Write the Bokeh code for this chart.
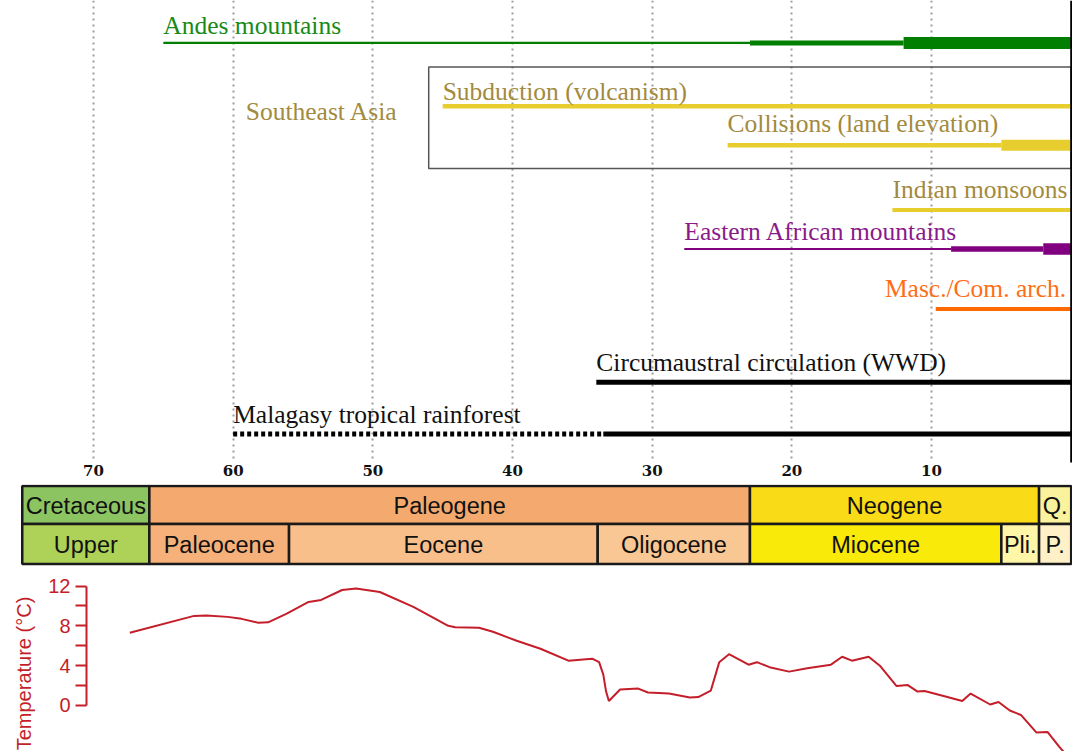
from bokeh.plotting import figure
from bokeh.layouts import column
from bokeh.models import Range1d, FixedTicker, ColumnDataSource, LinearAxis
from bokeh.core.properties import value
from bokeh.embed import file_html
from bokeh.resources import INLINE

# ---------------- data (ages in Ma) ----------------
age_ticks = [70, 60, 50, 40, 30, 20, 10]

andes_ma = [65, 23, 12, 0]            # weak -> moderate -> strong uplift
southeast_asia_ma = [46, 0]
subduction_ma = [45, 0]
collision_ma = [24.6, 5, 0]
monsoon_ma = [12.8, 0]
east_africa_ma = [27.7, 8.6, 2, 0]
masc_com_ma = [9.7, 0]
circumaustral_ma = [34, 0]
rainforest_uncertain_ma = [60, 33.5]
rainforest_ma = [33.5, 0]

period_names = ["Cretaceous", "Paleogene", "Neogene", "Q."]
period_bounds_ma = [75.1, 66, 23, 2.3, 0]
epoch_names = ["Upper", "Paleocene", "Eocene", "Oligocene", "Miocene", "Pli.", "P."]
epoch_bounds_ma = [75.1, 66, 56, 33.9, 23, 5.0, 2.3, 0]

temp_age_ma = [67.4, 62.8, 61.9, 60.4, 59.4, 58.2, 57.5, 56.2, 54.6,
               53.7, 52.2, 51.2, 49.5, 47.1, 44.6, 44.1, 42.4, 41.4, 39.7,
               38.0, 36.0, 34.3, 33.8, 33.5, 33.3, 33.1, 32.3, 31.0, 30.3,
               28.8, 27.3, 26.7, 25.8, 25.6, 25.2, 24.5, 23.9, 23.1, 22.5,
               21.6, 20.2, 18.9, 17.2, 16.4, 15.7, 14.5, 13.7, 12.5, 11.7,
               11.0, 10.5, 9.0, 7.8, 7.2, 5.8, 5.2, 4.4, 3.6, 2.5,
               1.7, 0.85, 0.2]
temp_c = [7.3, 9.0, 9.05, 8.9, 8.7, 8.3, 8.35, 9.2, 10.4,
          10.6, 11.6, 11.75, 11.4, 9.9, 8.0, 7.85, 7.8, 7.4, 6.5,
          5.7, 4.5, 4.7, 4.35, 3.1, 1.4, 0.45, 1.6, 1.7, 1.3,
          1.2, 0.8, 0.85, 1.5, 2.45, 4.35, 5.15, 4.7, 4.1, 4.35,
          3.85, 3.4, 3.75, 4.1, 4.9, 4.5, 4.9, 4.0, 1.95, 2.05,
          1.4, 1.45, 0.9, 0.45, 1.2, 0.1, 0.35, -0.5, -0.95, -2.7,
          -2.65, -4.15, -5.2]
temp_major_ticks = [0, 4, 8, 12]
temp_minor_ticks = [2, 6, 10]

# ---------------- layout / style ----------------
PAGE_W = 1072
PX70 = 93.0          # x of 70 Ma
PX0 = 1070.7         # x of 0 Ma
SCALE = (PX0 - PX70) / 70.0
X_RANGE = Range1d(start=70 + PX70 / SCALE, end=-(PAGE_W - PX0) / SCALE)
TEMP_AXIS_MA = 70 + (PX70 - 86) / SCALE

SERIF = value("Liberation Serif")
SANS = value("Liberation Sans")
RED = "#C41E2A"
GOLD_TEXT = "#A28A3E"
YELLOW = "#E8CD2E"
GREEN = "#007F00"
PURPLE = "#800080"
ORANGE = "#FF6A00"

# event rows: (phase bounds, line y, widths per phase, line colour)
rows = [
    (andes_ma, 42.4, [2.4, 5, 12], GREEN),
    (subduction_ma, 105.8, [4.5], YELLOW),
    (collision_ma, 144.7, [4.5, 11], YELLOW),
    (monsoon_ma, 209.5, [4], YELLOW),
    (east_africa_ma, 248.5, [2, 5.5, 11.5], PURPLE),
    (masc_com_ma, 308.5, [3.8], ORANGE),
    (circumaustral_ma, 381.7, [5], "black"),
    (rainforest_ma, 433.6, [5], "black"),
]

seg = dict(x0=[], x1=[], y=[], w=[], c=[])
for bounds, y, widths, col in rows:
    for i in range(len(bounds) - 1):
        seg["x0"].append(bounds[i])
        seg["x1"].append(bounds[i + 1])
        seg["y"].append(y)
        seg["w"].append(widths[i])
        seg["c"].append(col)

labels = dict(
    text=["Andes mountains", "Southeast Asia", "Subduction (volcanism)",
          "Collisions (land elevation)", "Indian monsoons",
          "Eastern African mountains", "Circumaustral circulation (WWD)",
          "Malagasy tropical rainforest"],
    x=[andes_ma[0], 59.1, subduction_ma[0], collision_ma[0], monsoon_ma[0],
       east_africa_ma[0], circumaustral_ma[0], rainforest_uncertain_ma[0]],
    y=[25.0, 111.3, 91.0, 123.0, 188.5, 230.5, 361.5, 414.3],
    c=["#178A17", GOLD_TEXT, GOLD_TEXT, GOLD_TEXT, GOLD_TEXT, "#8A1A8A",
       "#111111", "#111111"],
)

# ---------------- figure A: events timeline ----------------
pA = figure(width=PAGE_W, height=484, x_range=X_RANGE,
            y_range=Range1d(462, 0), output_backend="svg",
            toolbar_location=None, y_axis_location=None,
            min_border_left=0, min_border_right=0, min_border_top=0,
            min_border_bottom=22)
pA.outline_line_color = None
pA.ygrid.visible = False
pA.xgrid.ticker = FixedTicker(ticks=age_ticks)
pA.xgrid.grid_line_color = "#9c9c9c"
pA.xgrid.grid_line_dash = "2 4"
pA.xgrid.grid_line_width = 2
ax = pA.xaxis[0]
ax.ticker = FixedTicker(ticks=age_ticks)
ax.axis_line_color = None
ax.major_tick_line_color = None
ax.minor_tick_line_color = None
ax.major_tick_out = 0
ax.major_tick_in = 0
ax.major_label_standoff = 2
ax.major_label_text_font = "DejaVu Serif"
ax.major_label_text_font_style = "bold"
ax.major_label_text_font_size = "15px"
ax.major_label_text_color = "#111111"

# Southeast Asia frame
pA.quad(left=[southeast_asia_ma[0]], right=[southeast_asia_ma[1]],
        top=[66.5], bottom=[168], fill_color=None,
        line_color="#555555", line_width=1.5)

# rainforest uncertain (dotted) part
pA.segment(x0=[rainforest_uncertain_ma[0]], x1=[rainforest_uncertain_ma[1]],
           y0=[433.6], y1=[433.6], line_color="black", line_width=5,
           line_dash="4 3")

src = ColumnDataSource(seg)
pA.segment(x0="x0", x1="x1", y0="y", y1="y", line_width="w",
           line_color="c", source=src)

# right-hand present-day line
pA.segment(x0=[0], x1=[0], y0=[0], y1=[470], line_color="black",
           line_width=2)

lsrc = ColumnDataSource(labels)
pA.text(x="x", y="y", text="text", text_color="c", source=lsrc,
        text_font=SERIF, text_font_size="25.5px",
        text_baseline="alphabetic", text_align="left")
pA.text(x=[masc_com_ma[1]], y=[288.2], text=["Masc./Com. arch."],
        text_color="#FF6E14", text_font=SERIF, text_font_size="25.5px",
        text_baseline="alphabetic", text_align="right", x_offset=-5)

# ---------------- figure B: geological time scale ----------------
period_colors = ["#8CC462", "#F4AA6E", "#F9DB17", "#FAF29C"]
epoch_colors = ["#AED257", "#F6B07A", "#F8BF8B", "#F9C793", "#FAEA0A",
                "#FFF6A8", "#FFF0C8"]

pB = figure(width=PAGE_W, height=86, x_range=X_RANGE,
            y_range=Range1d(570, 484), output_backend="svg",
            toolbar_location=None, x_axis_location=None,
            y_axis_location=None, min_border=0)
pB.outline_line_color = None
pB.grid.visible = False
pB.quad(left=period_bounds_ma[:-1], right=period_bounds_ma[1:],
        top=485.5, bottom=523.5, fill_color=period_colors,
        line_color="#1a1a1a", line_width=2.5)
pB.quad(left=epoch_bounds_ma[:-1], right=epoch_bounds_ma[1:],
        top=523.5, bottom=563.5, fill_color=epoch_colors,
        line_color="#1a1a1a", line_width=2.5)
pmid = [(a + b) / 2 for a, b in zip(period_bounds_ma[:-1], period_bounds_ma[1:])]
emid = [(a + b) / 2 for a, b in zip(epoch_bounds_ma[:-1], epoch_bounds_ma[1:])]
pB.text(x=pmid, y=[505] * len(pmid), text=period_names, text_font=SANS,
        text_font_size="23.5px", text_align="center",
        text_baseline="middle", text_color="#111111")
pB.text(x=emid, y=[544.5] * len(emid), text=epoch_names, text_font=SANS,
        text_font_size="23.5px", text_align="center",
        text_baseline="middle", text_color="#111111")

# ---------------- figure C: temperature ----------------
pC = figure(width=PAGE_W, height=181, x_range=X_RANGE,
            y_range=Range1d(-4.62, 13.557), output_backend="svg",
            toolbar_location=None, x_axis_location=None,
            y_axis_location=None, min_border=0)
pC.outline_line_color = None
pC.grid.visible = False

ay = LinearAxis(fixed_location=TEMP_AXIS_MA)
ay.ticker = FixedTicker(ticks=temp_major_ticks, minor_ticks=temp_minor_ticks)
ay.bounds = (0, 12)
ay.axis_line_color = RED
ay.axis_line_width = 2
ay.major_tick_line_color = RED
ay.major_tick_line_width = 2
ay.minor_tick_line_color = RED
ay.minor_tick_line_width = 2
ay.major_tick_out = 11
ay.major_tick_in = 0
ay.minor_tick_out = 11
ay.minor_tick_in = 0
ay.major_label_standoff = 5
ay.major_label_text_font = "Liberation Sans"
ay.major_label_text_font_size = "20px"
ay.major_label_text_color = RED
pC.add_layout(ay, "left")

# axis title, carried by a line-less companion axis so it can sit lower
ay_title = LinearAxis(fixed_location=TEMP_AXIS_MA,
                      ticker=FixedTicker(ticks=[]))
ay_title.bounds = (-4.62, 11.05)
ay_title.axis_line_color = None
ay_title.major_tick_line_color = None
ay_title.minor_tick_line_color = None
ay_title.major_tick_out = 0
ay_title.major_tick_in = 0
ay_title.minor_tick_out = 0
ay_title.major_label_standoff = 0
ay_title.axis_label = "Temperature (°C)"
ay_title.axis_label_text_font = "Liberation Sans"
ay_title.axis_label_text_font_style = "normal"
ay_title.axis_label_text_font_size = "20px"
ay_title.axis_label_text_color = RED
ay_title.axis_label_standoff = 52
pC.add_layout(ay_title, "left")

pC.line(temp_age_ma, temp_c, line_color=RED, line_width=2)

layout = column(pA, pB, pC, spacing=0)
open("out.html", "w").write(file_html(layout, INLINE))
